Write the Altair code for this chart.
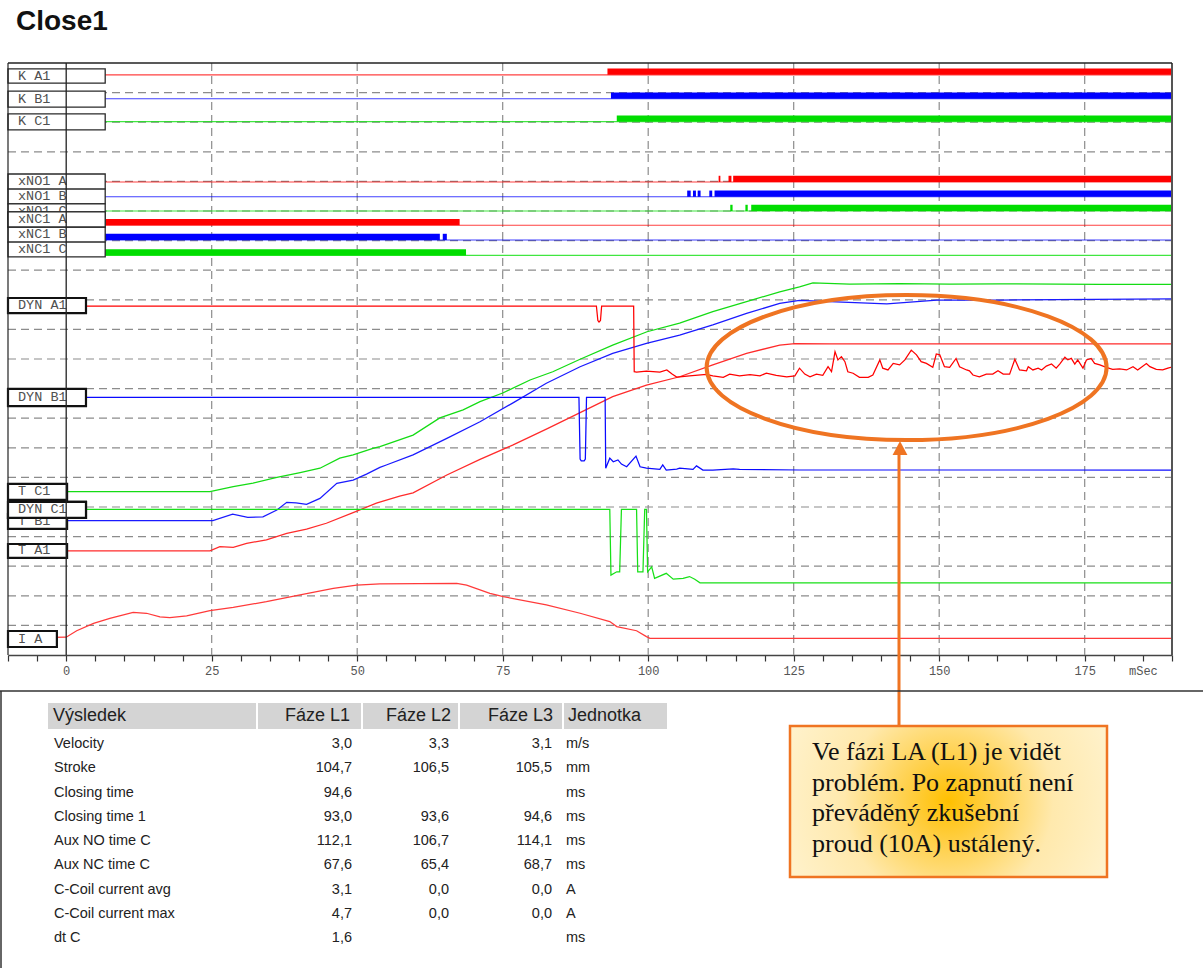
import altair as alt
import pandas as pd

# ---------------------------------------------------------------------------
# Time base (ms) and vertical grid (one unit = one grid division)
# ---------------------------------------------------------------------------
T_MIN, T_MAX = -10, 190
DIV_TOP = 20
W, H = 1164, 592

GRID_DIVS = list(range(1, 20))
GRID_MS = [25, 50, 75, 100, 125, 150, 175]
AXIS_TICKS = list(range(-10, 195, 5))

RED, BLUE, GREEN = "#ff0000", "#0000ff", "#00dd00"
ORANGE = "#ef7422"

# ---------------------------------------------------------------------------
# Binary channels: baseline level and "on" intervals (ms)
# ---------------------------------------------------------------------------
DIG_NAMES = ["K A1", "K B1", "K C1", "xNO1 A", "xNO1 B", "xNO1 C", "xNC1 A", "xNC1 B", "xNC1 C"]
DIG_LEVEL = [19.6, 18.79, 18.02, 15.98, 15.48, 15.0, 14.52, 14.02, 13.5]
DIG_PHASE = ["A", "B", "C", "A", "B", "C", "A", "B", "C"]
DIG_ON = {
    "K A1": [(93.0, 190.0)],
    "K B1": [(93.6, 190.0)],
    "K C1": [(94.6, 190.0)],
    "xNO1 A": [(112.1, 112.4), (113.8, 114.3), (114.6, 190.0)],
    "xNO1 B": [(106.7, 107.3), (107.7, 108.2), (108.5, 109.0), (110.5, 111.0), (111.4, 190.0)],
    "xNO1 C": [(114.1, 114.5), (116.7, 117.1), (117.7, 190.0)],
    "xNC1 A": [(-10.0, 67.6)],
    "xNC1 B": [(-10.0, 64.2), (64.7, 65.4)],
    "xNC1 C": [(-10.0, 68.7)],
}
BAR_HEIGHT = 0.21

# ---------------------------------------------------------------------------
# Analog traces: (time ms, level in divisions)
# ---------------------------------------------------------------------------
T_C1 = [(-10, 5.52), (24.7, 5.52), (28.7, 5.69), (32.1, 5.81), (36.2, 6.00), (40.2, 6.16),
        (43.6, 6.31), (47.0, 6.65), (49.3, 6.76), (52.7, 6.98), (53.9, 7.04), (59.6, 7.43),
        (64.2, 8.01), (68.2, 8.28), (71.1, 8.56), (75.0, 8.85), (79.7, 9.29), (83.6, 9.57),
        (88.3, 9.99), (93.9, 10.47), (99.8, 10.92), (105.4, 11.21), (111.1, 11.60),
        (116.9, 11.94), (122.6, 12.27), (126.0, 12.44), (128.3, 12.57), (134.6, 12.53),
        (143.2, 12.55), (151.8, 12.53), (160.4, 12.54), (177.6, 12.52), (190, 12.52)]

T_B1 = [(-10, 4.54), (25.2, 4.54), (28.6, 4.76), (31.2, 4.65), (33.8, 4.67), (36.2, 4.90),
        (37.9, 5.16), (39.5, 5.14), (41.3, 5.09), (43.6, 5.29), (46.5, 5.80), (49.3, 5.91),
        (51.6, 6.11), (53.9, 6.34), (55.0, 6.42), (59.6, 6.76), (65.4, 7.32), (71.1, 7.88),
        (76.7, 8.51), (82.5, 9.18), (88.3, 9.74), (93.9, 10.19), (99.7, 10.53), (105.4, 10.81),
        (111.1, 11.15), (116.9, 11.54), (122.6, 11.88), (126.0, 11.98), (131.2, 11.94),
        (141.0, 11.86), (149.6, 11.99), (160.4, 11.99), (190, 12.03)]

T_A1 = [(-10, 3.52), (24.7, 3.52), (26.4, 3.66), (28.7, 3.64), (31.0, 3.77), (34.4, 3.89),
        (37.9, 4.11), (41.3, 4.25), (44.7, 4.45), (49.3, 4.81), (53.3, 5.13), (57.3, 5.37),
        (59.6, 5.48), (65.4, 6.08), (71.1, 6.61), (76.7, 7.09), (82.5, 7.63), (88.3, 8.19),
        (93.9, 8.73), (99.7, 9.12), (105.4, 9.40), (111.1, 9.80), (116.9, 10.19), (122.6, 10.47),
        (125.2, 10.52), (131.2, 10.51), (190, 10.51)]

I_A = [(-10, 0.57), (0, 0.60), (1.8, 0.82), (4.7, 1.07), (7.5, 1.24), (11.5, 1.44), (13.8, 1.41),
       (16.1, 1.29), (17.8, 1.26), (20.7, 1.32), (24.7, 1.50), (28.7, 1.61), (34.4, 1.80),
       (40.2, 2.03), (45.9, 2.25), (49.9, 2.36), (53.9, 2.40), (67.1, 2.42), (68.8, 2.36),
       (72.8, 2.08), (75.1, 1.97), (82.5, 1.69), (88.3, 1.41), (93.4, 1.13), (94.6, 0.96),
       (98.0, 0.82), (99.7, 0.62), (100.3, 0.56), (190, 0.56)]

DYN_A1 = [(-10, 11.79), (91.1, 11.79), (91.35, 11.3), (91.55, 11.25), (91.8, 11.3), (92.0, 11.79),
          (97.5, 11.79), (97.6, 9.57), (98.0, 9.56), (99.7, 9.59), (102.0, 9.56), (103.2, 9.63),
          (104.1, 9.49), (104.9, 9.39), (105.4, 9.40), (107.1, 9.43), (110.0, 9.48), (111.1, 9.43),
          (112.9, 9.38), (114.0, 9.49), (115.7, 9.43), (117.5, 9.47), (119.2, 9.43), (120.3, 9.52),
          (122.0, 9.45), (123.8, 9.40), (125.2, 9.43), (126.0, 9.69), (126.9, 9.49), (127.8, 9.40),
          (128.9, 9.49), (130.0, 9.45), (130.9, 9.74), (131.5, 9.57), (132.1, 10.25), (132.6, 9.97),
          (133.2, 10.08), (133.8, 9.91), (134.3, 9.57), (135.2, 9.52), (136.3, 9.38), (137.8, 9.38),
          (138.6, 9.46), (139.8, 9.97), (140.3, 9.69), (141.2, 9.63), (142.1, 9.85), (143.2, 9.80),
          (144.1, 9.97), (145.2, 10.30), (146.1, 10.14), (146.9, 9.91), (147.8, 9.85), (148.9, 9.72),
          (149.5, 10.17), (150.1, 10.14), (150.9, 9.74), (151.8, 9.72), (152.9, 10.02), (153.5, 9.74),
          (154.7, 9.63), (155.2, 9.60), (155.8, 9.46), (156.9, 9.40), (158.1, 9.49), (159.2, 9.49),
          (160.1, 9.60), (161.0, 9.49), (162.1, 9.49), (163.0, 9.99), (163.8, 9.63), (165.0, 9.60),
          (165.3, 9.74), (166.1, 9.63), (167.0, 9.69), (167.6, 9.63), (168.4, 9.76), (169.3, 9.83),
          (170.1, 9.69), (170.7, 9.83), (171.6, 10.06), (172.1, 9.97), (172.7, 10.02), (173.3, 9.83),
          (173.8, 9.97), (174.7, 9.69), (175.3, 9.97), (176.1, 10.02), (176.7, 9.85), (177.6, 9.80),
          (178.7, 9.72), (179.8, 9.65), (181.0, 9.67), (182.2, 9.63), (183.3, 9.74), (184.1, 9.63),
          (185.6, 9.85), (186.2, 9.74), (187.3, 9.65), (188.4, 9.63), (189.3, 9.69), (190, 9.73)]

DYN_B1 = [(-10, 8.70), (88.1, 8.70), (88.3, 6.62), (88.5, 6.56), (89.0, 6.56), (89.2, 6.62),
          (89.4, 8.70), (92.6, 8.70), (92.7, 6.31), (93.4, 6.65), (94.0, 6.53), (94.8, 6.59),
          (95.4, 6.45), (96.3, 6.36), (97.9, 6.72), (98.6, 6.36), (99.7, 6.31), (102.0, 6.27),
          (102.5, 6.42), (103.1, 6.25), (104.9, 6.28), (105.4, 6.31), (107.7, 6.27), (108.3, 6.39),
          (109.4, 6.25), (111.1, 6.25), (114.6, 6.29), (115.7, 6.27), (126.0, 6.25), (190, 6.25)]

DYN_C1 = [(-10, 4.92), (93.4, 4.92), (93.6, 2.70), (94.6, 2.81), (95.1, 2.81), (95.4, 4.92),
          (98.0, 4.92), (98.2, 2.81), (99.1, 2.81), (99.4, 4.92), (99.7, 4.92), (99.9, 2.81),
          (100.6, 2.98), (101.1, 2.59), (103.1, 2.76), (104.3, 2.56), (106.0, 2.59), (107.1, 2.65),
          (108.0, 2.56), (108.9, 2.44), (126.0, 2.44), (190, 2.44)]

ANALOG = {"T C1": T_C1, "T B1": T_B1, "T A1": T_A1, "I A": I_A,
          "DYN A1": DYN_A1, "DYN B1": DYN_B1, "DYN C1": DYN_C1}
ANALOG_COLORS = ["#14dc14", "#1a1aff", "#ff2b2b", "#ff3a3a", "#ff0000", "#0a0aff", "#18e018"]

# ---------------------------------------------------------------------------
# Channel label boxes: name, right edge (ms), top / bottom (div), kind
# ---------------------------------------------------------------------------
LABEL_BOXES = [
    ("K A1", 6.7, 19.80, 19.32, "dig"), ("K B1", 6.7, 19.05, 18.51, "dig"),
    ("K C1", 6.7, 18.28, 17.74, "dig"), ("xNO1 A", 6.7, 16.25, 15.74, "dig"),
    ("xNO1 B", 6.7, 15.74, 15.24, "dig"), ("xNO1 C", 6.7, 15.24, 14.73, "dig"),
    ("xNC1 A", 6.7, 14.97, 14.46, "dig"), ("xNC1 B", 6.7, 14.46, 13.95, "dig"),
    ("xNC1 C", 6.7, 13.95, 13.45, "dig"),
    ("DYN A1", 3.4, 12.06, 11.55, "ana"), ("DYN B1", 3.4, 8.99, 8.41, "ana"),
    ("T C1", 0.15, 5.78, 5.24, "ana"), ("T B1", 0.15, 4.76, 4.26, "ana"),
    ("DYN C1", 3.4, 5.17, 4.63, "ana"), ("T A1", 0.15, 3.75, 3.28, "ana"),
    ("I A", -1.6, 0.81, 0.27, "ana"),
]
OVERLAPPING = ["xNC1 A", "DYN C1"]

# Marked region of interest on DYN A1 (center in ms / div)
ROI_CENTER = (144.4, 9.71)

# ---------------------------------------------------------------------------
# Result table
# ---------------------------------------------------------------------------
HEADER = ["Výsledek", "Fáze L1", "Fáze L2", "Fáze L3", "Jednotka"]
METRICS = ["Velocity", "Stroke", "Closing time", "Closing time 1", "Aux NO time C",
           "Aux NC time C", "C-Coil current avg", "C-Coil current max", "dt C"]
FAZE_L1 = [3.0, 104.7, 94.6, 93.0, 112.1, 67.6, 3.1, 4.7, 1.6]
FAZE_L2 = [3.3, 106.5, None, 93.6, 106.7, 65.4, 0.0, 0.0, None]
FAZE_L3 = [3.1, 105.5, None, 94.6, 114.1, 68.7, 0.0, 0.0, None]
UNITS = ["m/s", "mm", "ms", "ms", "ms", "ms", "A", "A", "ms"]

NOTE_LINES = ["Ve fázi LA (L1) je vidět", "problém. Po zapnutí není",
              "převáděný zkušební", "proud (10A) ustálený."]

# ---------------------------------------------------------------------------
# Build tables
# ---------------------------------------------------------------------------
x_sc = alt.Scale(domain=[T_MIN, T_MAX], nice=False, zero=False)
y_sc = alt.Scale(domain=[0, DIV_TOP], nice=False, zero=False)
phase_sc = alt.Scale(domain=["A", "B", "C"], range=[RED, BLUE, GREEN])
series_sc = alt.Scale(domain=list(ANALOG), range=ANALOG_COLORS)
row_sc = alt.Scale(domain=[0, len(METRICS) - 1], range=[681, 875], nice=False, zero=False)


def X(f):
    return alt.X(f, scale=x_sc, axis=None)


def Y(f):
    return alt.Y(f, scale=y_sc, axis=None)


dig_df = pd.DataFrame({"name": DIG_NAMES, "level": DIG_LEVEL, "phase": DIG_PHASE})
bar_rows = []
for name, level, phase in zip(DIG_NAMES, DIG_LEVEL, DIG_PHASE):
    for t0, t1 in DIG_ON[name]:
        bar_rows.append({"name": name, "phase": phase, "t0": t0, "t1": t1,
                         "level": level, "top": level + BAR_HEIGHT})
bar_df = pd.DataFrame(bar_rows)

ana_df = pd.DataFrame([{"series": s, "t": t, "v": v}
                       for s, pts in ANALOG.items() for t, v in pts])

box_df = pd.DataFrame([{"name": n, "x0": T_MIN, "x1": x1, "yt": yt, "yb": yb,
                        "ym": (yt + yb) / 2, "kind": k}
                       for n, x1, yt, yb, k in LABEL_BOXES])


def fmt(vals):
    return ["" if v is None else f"{v:.1f}".replace(".", ",") for v in vals]


table_df = pd.DataFrame({"row": list(range(len(METRICS))), "metric": METRICS,
                         "l1": fmt(FAZE_L1), "l2": fmt(FAZE_L2), "l3": fmt(FAZE_L3),
                         "unit": UNITS})
one = pd.DataFrame({"k": [0]})

# ---------------------------------------------------------------------------
# Layers
# ---------------------------------------------------------------------------
time_axis = alt.Axis(
    values=AXIS_TICKS,
    labelExpr="datum.value == 185 ? 'mSec' : (datum.value >= 0 && datum.value <= 175 && datum.value % 25 == 0 ? datum.label : '')",
    tickSize=6, tickWidth=1.2, tickColor="#333333",
    domainColor="#444444", domainWidth=1.6,
    labelFont="Liberation Mono", labelFontSize=12, labelColor="#555555",
    labelPadding=4, grid=False, title=None, labelFlush=False, labelOverlap=False,
    labelBound=False,
)

grid_style = dict(color="#8c8c8c", strokeWidth=1.2, strokeDash=[8, 5])

hgrid = alt.Chart(pd.DataFrame({"d": GRID_DIVS})).mark_rule(**grid_style).encode(
    y=Y("d:Q"), x=alt.value(0), x2=alt.value(W))

vgrid = alt.Chart(pd.DataFrame({"t": GRID_MS})).mark_rule(**grid_style).encode(
    x=alt.X("t:Q", scale=x_sc, axis=time_axis), y=alt.value(0), y2=alt.value(H))

dig_thin = alt.Chart(dig_df).mark_rule(strokeWidth=1.1, opacity=0.75).encode(
    y=Y("level:Q"), x=alt.value(0), x2=alt.value(W),
    color=alt.Color("phase:N", scale=phase_sc, legend=None))

dig_bars = alt.Chart(bar_df).mark_rect().encode(
    x=X("t0:Q"), x2="t1:Q", y=Y("level:Q"), y2="top:Q",
    color=alt.Color("phase:N", scale=phase_sc, legend=None))

analog = alt.Chart(ana_df).mark_line(strokeWidth=1.25).encode(
    x=X("t:Q"), y=Y("v:Q"),
    color=alt.Color("series:N", scale=series_sc, legend=None))


def box_layers(df):
    out = []
    for kind, stroke, sw in (("dig", "#2a2a2a", 1.3), ("ana", "#111111", 2.2)):
        sub = df[df["kind"] == kind]
        if len(sub) == 0:
            continue
        out.append(alt.Chart(sub).mark_rect(fill="white", stroke=stroke, strokeWidth=sw).encode(
            x=X("x0:Q"), x2="x1:Q", y=Y("yb:Q"), y2="yt:Q"))
    out.append(alt.Chart(df).mark_text(
        align="left", baseline="middle", dx=10, dy=-0.5,
        font="Liberation Mono", fontSize=13.5, color="#505050").encode(
        x=X("x0:Q"), y=Y("ym:Q"), text="name:N"))
    return out


boxes_all = box_layers(box_df)
boxes_top = box_layers(box_df[box_df["name"].isin(OVERLAPPING)])

frame_left = alt.Chart(pd.DataFrame({"t": [T_MIN]})).mark_rule(color="#222222", strokeWidth=1.2).encode(
    x=X("t:Q"), y=alt.value(0), y2=alt.value(H))
zero_line = alt.Chart(pd.DataFrame({"t": [0]})).mark_rule(color="#222222", strokeWidth=1.3).encode(
    x=X("t:Q"), y=alt.value(0), y2=alt.value(H))
frame_right = alt.Chart(pd.DataFrame({"t": [T_MAX]})).mark_rule(color="#555555", strokeWidth=2).encode(
    x=X("t:Q"), y=alt.value(0), y2=alt.value(H))
frame_top = alt.Chart(pd.DataFrame({"d": [DIV_TOP]})).mark_rule(color="#222222", strokeWidth=1.3).encode(
    y=Y("d:Q"), x=alt.value(0), x2=alt.value(W))

# Region of interest ellipse, arrow and note box
ELLIPSE = "M -1 0 A 1 0.3625 0 1 0 1 0 A 1 0.3625 0 1 0 -1 0 Z"
ARROW_HEAD = "M 0 -1 L 0.85 0.6 L -0.85 0.6 Z"

roi = alt.Chart(pd.DataFrame({"t": [ROI_CENTER[0]], "v": [ROI_CENTER[1]]})).mark_point(
    shape=ELLIPSE, size=160000, filled=False, color=ORANGE, strokeWidth=4, opacity=1).encode(
    x=X("t:Q"), y=Y("v:Q"))

arrow = alt.Chart(one).mark_rule(color=ORANGE, strokeWidth=3).encode(
    x=alt.value(891), y=alt.value(389), y2=alt.value(663))
arrow_head = alt.Chart(one).mark_point(
    shape=ARROW_HEAD, size=306, filled=True, color=ORANGE, opacity=1).encode(
    x=alt.value(892), y=alt.value(386.75))

note_fill = {
    "gradient": "radial",
    "x1": 0.5, "y1": 0.5, "r1": 0,
    "x2": 0.5, "y2": 0.5, "r2": 0.55,
    "stops": [
        {"offset": 0.0, "color": "#ffc000"},
        {"offset": 0.25, "color": "#ffd04a"},
        {"offset": 0.6, "color": "#ffe9ad"},
        {"offset": 1.0, "color": "#fff2cc"},
    ],
}
note_box = alt.Chart(one).mark_rect(fill=note_fill, stroke=ORANGE, strokeWidth=2.5).encode(
    x=alt.value(782), x2=alt.value(1099), y=alt.value(663), y2=alt.value(814))
note_text = alt.Chart(one).mark_text(
    text=NOTE_LINES, align="left", baseline="alphabetic", font="Liberation Serif",
    fontSize=26, lineHeight=30.6, color="#111111").encode(
    x=alt.value(804), y=alt.value(697))

title = alt.Chart(one).mark_text(
    text="Close1", align="left", baseline="alphabetic", font="Liberation Sans",
    fontWeight="bold", fontSize=28, color="#111111").encode(
    x=alt.value(8), y=alt.value(-33))

# Table frame and header
sep_h = alt.Chart(one).mark_rule(color="#333333", strokeWidth=1.5).encode(
    x=alt.value(-8), x2=alt.value(1195), y=alt.value(628))
sep_v = alt.Chart(one).mark_rule(color="#333333", strokeWidth=1.5).encode(
    x=alt.value(-7), y=alt.value(628), y2=alt.value(905))

header_cells = pd.DataFrame({"x0": [40, 250, 355, 452, 556], "x1": [248, 353, 450, 554, 659]})
header_bg = alt.Chart(header_cells).mark_rect(fill="#d4d4d4").encode(
    x=alt.X("x0:Q", scale=None, axis=None), x2="x1:Q",
    y=alt.value(640), y2=alt.value(666))

header_pos = pd.DataFrame({"label": HEADER, "x": [45, 342, 443, 545, 560],
                           "align": ["left", "right", "right", "right", "left"]})
header_layers = []
for align in ("left", "right"):
    header_layers.append(
        alt.Chart(header_pos[header_pos["align"] == align]).mark_text(
            align=align, baseline="middle", font="Liberation Sans", fontSize=18,
            color="#222222").encode(
            x=alt.X("x:Q", scale=None, axis=None), y=alt.value(653), text="label:N"))

row_font = dict(baseline="middle", font="Liberation Sans", fontSize=14.5, color="#222222")
table_layers = []
for field, xpos, align in (("metric", 46, "left"), ("l1", 344, "right"),
                           ("l2", 441, "right"), ("l3", 544, "right"), ("unit", 558, "left")):
    table_layers.append(
        alt.Chart(table_df).mark_text(align=align, **row_font).encode(
            x=alt.value(xpos), y=alt.Y("row:Q", scale=row_sc, axis=None), text=f"{field}:N"))

layers = ([hgrid, vgrid, dig_thin, dig_bars, analog]
          + boxes_all + boxes_top
          + [frame_left, zero_line, frame_right, frame_top, roi, arrow, arrow_head,
             note_box, note_text, title, sep_h, sep_v, header_bg]
          + header_layers + table_layers)

chart = alt.layer(*layers).properties(
    width=W, height=H,
    padding={"left": 8, "top": 63, "right": 31, "bottom": 313},
    autosize=alt.AutoSizeParams(type="none"),
    background="white",
).resolve_scale(
    y="independent", color="independent"
).resolve_axis(x="independent").configure_view(stroke=None)

chart.save("out.html", embed_options={"renderer": "svg", "actions": False})
